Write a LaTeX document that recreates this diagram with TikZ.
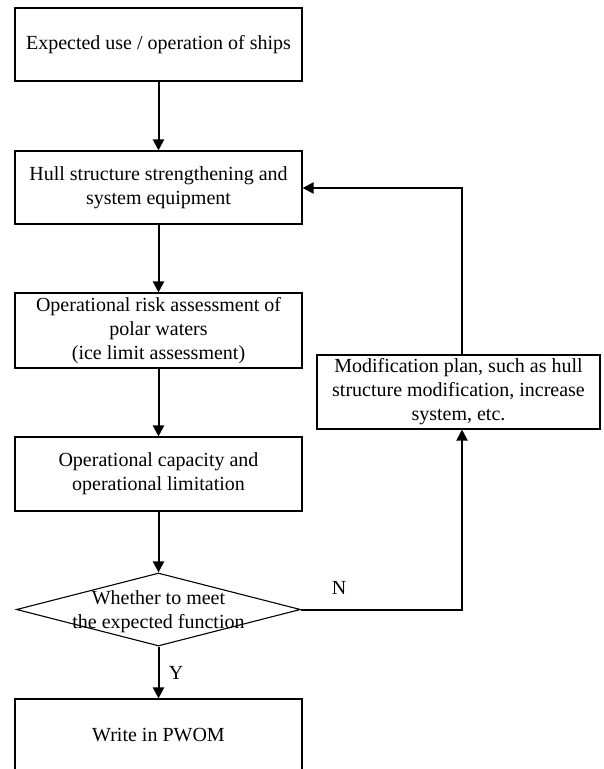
\documentclass[tikz,border=0pt]{standalone}
\usepackage{fontspec}
\setmainfont{Liberation Serif}
\usetikzlibrary{shapes.geometric,arrows.meta}
\begin{document}
\begin{tikzpicture}[x=1pt,y=-1pt,
 box/.style={draw,line width=1.1pt,minimum width=287pt,inner sep=0pt,align=center,font=\fontsize{20}{24}\selectfont},
 conn/.style={line width=2pt,-{Triangle[length=11pt,width=11pt]}},
 lbl/.style={font=\fontsize{20}{24}\selectfont}]
\useasboundingbox (0,0) rectangle (603,769);
\node[box,minimum height=73pt] (b1) at (158.5,44.5) {Expected use / operation of ships};
\node[box,minimum height=73pt] (b2) at (158.5,187.5) {Hull structure strengthening and\\system equipment};
\node[box,minimum height=75pt] (b3) at (158.5,330.5) {Operational risk assessment of\\polar waters\\(ice limit assessment)};
\node[box,minimum height=74pt] (b4) at (158.5,474) {Operational capacity and\\operational limitation};
\node[draw,diamond,line width=1.1pt,minimum width=284pt,minimum height=73pt,inner sep=0pt] (dia) at (158.5,609.5) {};
\node[lbl,align=center,inner sep=0pt] (diat) at (158.5,612) {Whether to meet\\the expected function};
\node[box,minimum height=72pt] (b5) at (158.5,735) {Write in PWOM};
\node[box,minimum width=283pt,minimum height=74pt] (b6) at (458.5,392) {Modification plan, such as hull\\structure modification, increase\\system, etc.};
\node[lbl] (ylab) at (176,673) {Y};
\node[lbl] (nlab) at (339,588) {N};
\coordinate (c1) at (462,609.5);
\coordinate (c2) at (462,188);
\draw[conn] (b1) -- (b2);
\draw[conn] (b2) -- (b3);
\draw[conn] (b3) -- (b4);
\draw[conn] (b4.south) -- (dia.north);
\draw[conn] (dia.south) -- (b5.north);
\draw[conn] (dia.east) -- (c1) -- (b6.south -| c1);
\draw[conn] (b6.north -| c2) -- (c2) -- (b2.east |- c2);
\end{tikzpicture}
\end{document}
